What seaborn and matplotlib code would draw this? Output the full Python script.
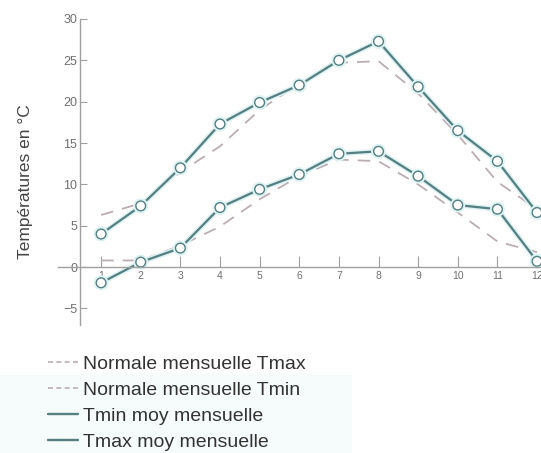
import matplotlib
matplotlib.use("Agg")
import matplotlib.pyplot as plt
import matplotlib.patheffects as pe
from matplotlib.lines import Line2D
from matplotlib.patches import Rectangle
import seaborn as sns
import pandas as pd

# Monthly temperatures (°C)
months = [1, 2, 3, 4, 5, 6, 7, 8, 9, 10, 11, 12]
tmax_moy = [4.0, 7.4, 12.0, 17.3, 19.9, 22.0, 25.0, 27.3, 21.8, 16.5, 12.8, 6.6]
tmin_moy = [-1.9, 0.6, 2.3, 7.2, 9.4, 11.2, 13.7, 14.0, 11.0, 7.5, 7.0, 0.7]
tmax_normale = [6.3, 7.7, 11.5, 14.6, 19.0, 22.2, 24.7, 24.9, 21.0, 16.0, 10.3, 7.0]
tmin_normale = [0.8, 0.8, 2.6, 4.9, 8.2, 11.0, 13.0, 12.8, 10.0, 6.6, 3.1, 1.8]
yticks = [-5, 0, 5, 10, 15, 20, 25, 30]

labels = ["Normale mensuelle Tmax", "Normale mensuelle Tmin",
          "Tmin moy mensuelle", "Tmax moy mensuelle"]

df = pd.DataFrame({
    "mois": months * 4,
    "temp": tmax_normale + tmin_normale + tmin_moy + tmax_moy,
    "serie": [labels[0]] * 12 + [labels[1]] * 12 + [labels[2]] * 12 + [labels[3]] * 12,
})

sns.set_theme(style="white")
plt.rcParams["font.family"] = ["Liberation Sans", "DejaVu Sans"]

solid_c = "#557f80"
dash_c = "#bcadb4"
glow = [pe.Stroke(linewidth=3.8, foreground="#ddf2f2"), pe.Normal()]

fig = plt.figure(figsize=(5.41, 4.53), dpi=100)
# faint tinted band behind the lower part of the legend
fig.patches.append(Rectangle((0.0, 0.0), 0.65, 0.172, transform=fig.transFigure,
                             facecolor="#f6fbfb", edgecolor="none", zorder=0))
ax = fig.add_axes([0.107, 0.2826, 0.893, 0.6755])
ax.patch.set_alpha(0)

for name in labels[:2]:
    sns.lineplot(data=df[df["serie"] == name], x="mois", y="temp", ax=ax,
                 color=dash_c, linewidth=1.3, linestyle=(0, (7, 5)), legend=False)
for name in labels[2:]:
    sns.lineplot(data=df[df["serie"] == name], x="mois", y="temp", ax=ax,
                 color=solid_c, linewidth=1.6, marker="o", markersize=7,
                 markerfacecolor="white", markeredgecolor=solid_c,
                 markeredgewidth=1.0, legend=False)
for ln in ax.lines[2:]:
    ln.set_path_effects(glow)
    ln.set_clip_on(False)

ax.set_xlim(-0.09, 12.1)
ax.set_ylim(-7, 30)
ax.set_xticks(months)
ax.set_yticks(yticks)
ax.set_xlabel("")
ax.set_ylabel("Températures en °C", fontsize=12.5, color="#444444")
ax.yaxis.set_label_coords(-0.052, 0.47)

for s in ["top", "right"]:
    ax.spines[s].set_visible(False)
ax.spines["left"].set_position(("data", 0.47))
ax.spines["bottom"].set_position(("data", 0))
for s in ["left", "bottom"]:
    ax.spines[s].set_color("#a0a0a0")
    ax.spines[s].set_linewidth(1.0)

ax.tick_params(axis="y", direction="in", length=5, width=0.8, color="#a0a0a0",
               labelsize=9, labelcolor="#707070", left=True, pad=2)
ax.tick_params(axis="x", direction="in", length=8, width=0.8, color="#a0a0a0",
               labelsize=7.5, labelcolor="#707070", bottom=True, pad=3)

handles = [
    Line2D([], [], color=dash_c, linewidth=1.2, linestyle=(0, (3, 2))),
    Line2D([], [], color=dash_c, linewidth=1.2, linestyle=(0, (3, 2))),
    Line2D([], [], color=solid_c, linewidth=1.7),
    Line2D([], [], color=solid_c, linewidth=1.7),
]
fig.legend(handles, labels, loc="upper left", bbox_to_anchor=(0.075, 0.232),
           frameon=False, fontsize=14, handlelength=1.5, handletextpad=0.3,
           labelspacing=0.42, labelcolor="#333333", borderaxespad=0)

fig.savefig("out.png", dpi=100)
